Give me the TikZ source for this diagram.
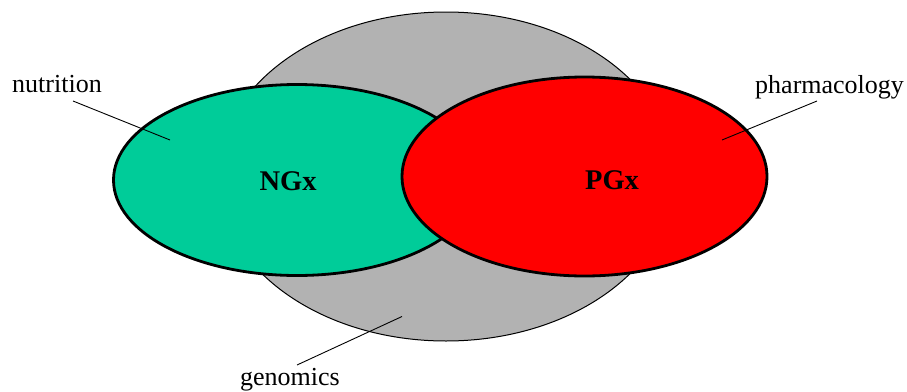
\documentclass[tikz,border=0pt]{standalone}
\usepackage{fontspec}
\setmainfont{Liberation Serif}
\usetikzlibrary{shapes.geometric}
\definecolor{ngxgreen}{RGB}{0,204,153}
\definecolor{pgxred}{RGB}{255,0,0}
\definecolor{gengray}{RGB}{178,178,178}
\begin{document}
\begin{tikzpicture}[x=1pt,y=-1pt,
  blob/.style={ellipse,inner sep=0pt,outer sep=0pt,draw=black},
  lbl/.style={font=\fontsize{26}{30}\selectfont,inner sep=0pt},
  big/.style={font=\fontsize{28.5}{32}\selectfont\bfseries,inner sep=0pt,anchor=base},
  lead/.style={draw=black,line width=0.9pt}]
\useasboundingbox (0,0) rectangle (907,391);
\node[blob,fill=gengray,line width=1pt,minimum width=456pt,minimum height=329pt] (gen) at (446,176.5) {};
\node[blob,fill=ngxgreen,line width=2.8pt,minimum width=367pt,minimum height=191pt] (ngx) at (297,180) {};
\node[blob,fill=pgxred,line width=2.8pt,minimum width=365pt,minimum height=199pt] (pgx) at (584.5,176.5) {};
\node[big] (ngxt) at (288,190) {NGx};
\node[big] (pgxt) at (612,189.5) {PGx};
\node[lbl,anchor=base west] (nut) at (12,92) {nutrition};
\node[lbl,anchor=base west] (pha) at (755,93) {pharmacology};
\node[lbl,anchor=base west] (geno) at (240,385) {genomics};
\coordinate (nutA) at (73,101);
\coordinate (nutB) at (170,140);
\coordinate (phaA) at (817,101);
\coordinate (phaB) at (722,140);
\coordinate (genA) at (297,365);
\coordinate (genB) at (402,316.5);
\draw[lead] (nutA) -- (nutB);
\draw[lead] (phaA) -- (phaB);
\draw[lead] (genA) -- (genB);
\end{tikzpicture}
\end{document}
